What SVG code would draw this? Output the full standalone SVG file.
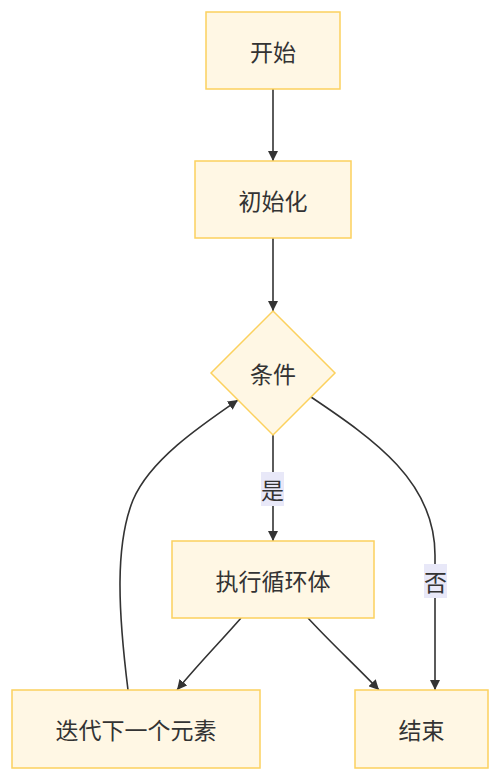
<svg xmlns="http://www.w3.org/2000/svg" width="500" height="780" viewBox="0 0 500 780">
<style>
.node{fill:#fff7e4;stroke:#fcd15e;stroke-width:1.5}
.lbl{font-family:"Noto Sans CJK SC","Noto Sans",sans-serif;font-size:23px;fill:#333;text-anchor:middle;dominant-baseline:central}
.edge{fill:none;stroke:#333;stroke-width:1.6}
.elbg{fill:#e8e8f8}
</style>
<defs>
<marker id="arr" viewBox="0 0 10 10" refX="10" refY="5" markerWidth="10" markerHeight="10" markerUnits="userSpaceOnUse" orient="auto">
<path d="M0,0 L10,5 L0,10 z" fill="#333"/>
</marker>
</defs>
<rect width="500" height="780" fill="#ffffff"/>
<g id="edges">
<path class="edge" d="M273,89 L273,161" marker-end="url(#arr)"/>
<path class="edge" d="M273,238 L273,311" marker-end="url(#arr)"/>
<path class="edge" d="M273,435 L273,541" marker-end="url(#arr)"/>
<path class="edge" d="M311,397 C375,440 435,482 435,555 L435,690" marker-end="url(#arr)"/>
<path class="edge" d="M241,618 C222,640 200,662 177,690" marker-end="url(#arr)"/>
<path class="edge" d="M308,618 C330,642 355,665 379,690" marker-end="url(#arr)"/>
<path class="edge" d="M128,690 C118,610 115,545 133,500 C150,460 200,426 238,400" marker-end="url(#arr)"/>
<rect class="elbg" x="261" y="472" width="23" height="34"/>
<text class="lbl" x="272.5" y="489">是</text>
<rect class="elbg" x="424" y="564" width="23" height="34"/>
<text class="lbl" x="435.5" y="581">否</text>
</g>
<g id="start"><rect class="node" x="206" y="12" width="134" height="77"/><text class="lbl" x="273" y="50.5">开始</text></g>
<g id="init"><rect class="node" x="195" y="161" width="156" height="77"/><text class="lbl" x="273" y="199.5">初始化</text></g>
<g id="cond"><polygon class="node" points="273,311 335,373 273,435 211,373"/><text class="lbl" x="273" y="373">条件</text></g>
<g id="body"><rect class="node" x="172" y="541" width="202" height="77"/><text class="lbl" x="273" y="579.5">执行循环体</text></g>
<g id="next"><rect class="node" x="12" y="690" width="248" height="78"/><text class="lbl" x="136" y="729">迭代下一个元素</text></g>
<g id="end"><rect class="node" x="355" y="690" width="133" height="78"/><text class="lbl" x="421.5" y="729">结束</text></g>
</svg>
